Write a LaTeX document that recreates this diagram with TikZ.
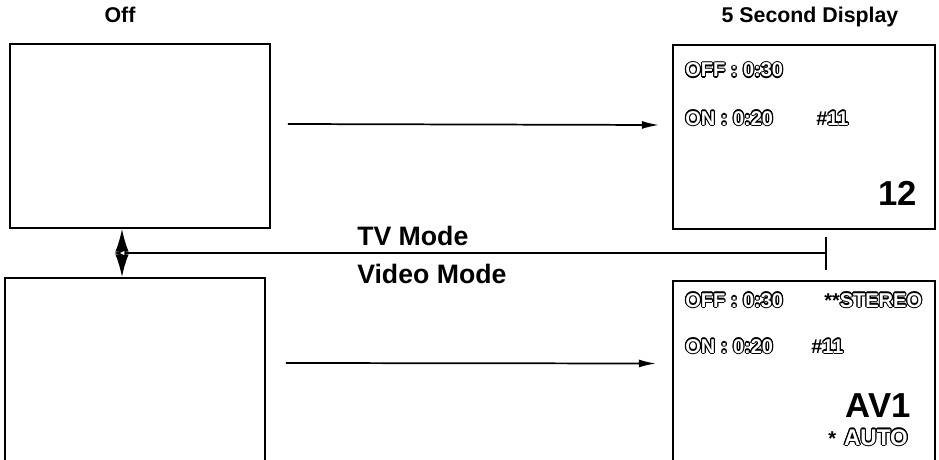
\documentclass[tikz,border=0pt]{standalone}
\usepackage{fontspec}
\setmainfont{Liberation Sans}
\usepackage{contour}
\contourlength{0.8pt}
\usetikzlibrary{arrows.meta}

\newcommand{\hollow}[1]{\textcolor{white}{\contour{black}{#1}}}

\begin{document}
\begin{tikzpicture}[
    x=0.75pt, y=-0.75pt,
    screen/.style={rectangle, draw=black, line width=1.3pt, fill=white},
    head/.style={font=\bfseries\fontsize{16pt}{18pt}\selectfont, anchor=base, inner sep=0pt},
    mode/.style={font=\bfseries\fontsize{20pt}{22pt}\selectfont, anchor=base west, inner sep=0pt},
    osd/.style={font=\bfseries\fontsize{15pt}{17pt}\selectfont, anchor=base west, inner sep=0pt},
    big/.style={font=\bfseries\fontsize{26pt}{28pt}\selectfont, anchor=base east, inner sep=0pt},
    arr/.style={-{Latex[length=13pt, width=6pt]}, line width=1.3pt},
    updown/.style={{Latex[length=17pt, width=10pt]}-{Latex[length=17pt, width=10pt]}, line width=1.3pt},
    back/.style={-{Latex[open, length=9pt, width=8pt, fill=white]}, line width=1.3pt}
]
\useasboundingbox (0,0) rectangle (939,460);
\clip (0,0) rectangle (939,460);

% column headings
\node[head] (offhead) at (120,23) {Off};
\node[head] (disphead) at (810,23) {5 Second Display};

% screens
\node[screen, minimum width=195pt, minimum height=138pt] (tvoff) at (140,136) {};
\node[screen, minimum width=196.5pt, minimum height=138pt] (tvon) at (804,137) {};
\node[screen, minimum width=195pt, minimum height=151.5pt] (vidoff) at (135,379) {};
\node[screen, minimum width=196.5pt, minimum height=149pt] (vidon) at (804,380.5) {};

% TV screen text
\node[osd] (tvofftime) at (685,77) {\hollow{OFF : 0:30}};
\node[osd] (tvontime) at (685,125) {\hollow{ON : 0:20}};
\node[osd] (tvprog) at (816,125) {\#\hollow{11}};
\node[big] (tvch) at (917,205) {12};

% video screen text
\node[osd] (vidofftime) at (685,307) {\hollow{OFF : 0:30}};
\node[osd] (vidstereo) at (824,307) {**\hollow{STEREO}};
\node[osd] (vidontime) at (685,353) {\hollow{ON : 0:20}};
\node[osd] (vidprog) at (811,353) {\#\hollow{11}};
\node[big] (vidch) at (911,417) {AV1};
\node[osd] (vidauto) at (828,445) {*\hspace{6pt}\fontsize{17pt}{19pt}\selectfont\hollow{AUTO}};

% display arrows
\draw[arr] ([shift={(17,-12)}]tvoff.east) -- ([shift={(-13,-12)}]tvon.west);
\draw[arr] ([shift={(20,-16)}]vidoff.east) -- ([shift={(-16,-17)}]vidon.west);

% mode switch
\draw[updown] ([shift={(-18,0)}]tvoff.south) -- ([shift={(-13,0)}]vidoff.north)
    coordinate[midway] (switch);
\coordinate (tick) at (826,253);
\draw[line width=1.3pt] (826,237) -- (826,270);
\draw[back] (tick) -- ([shift={(-8,0)}]switch);
\node[mode] (tvmode) at (357,245) {TV Mode};
\node[mode] (vidmode) at (357,283) {Video Mode};

\end{tikzpicture}
\end{document}
